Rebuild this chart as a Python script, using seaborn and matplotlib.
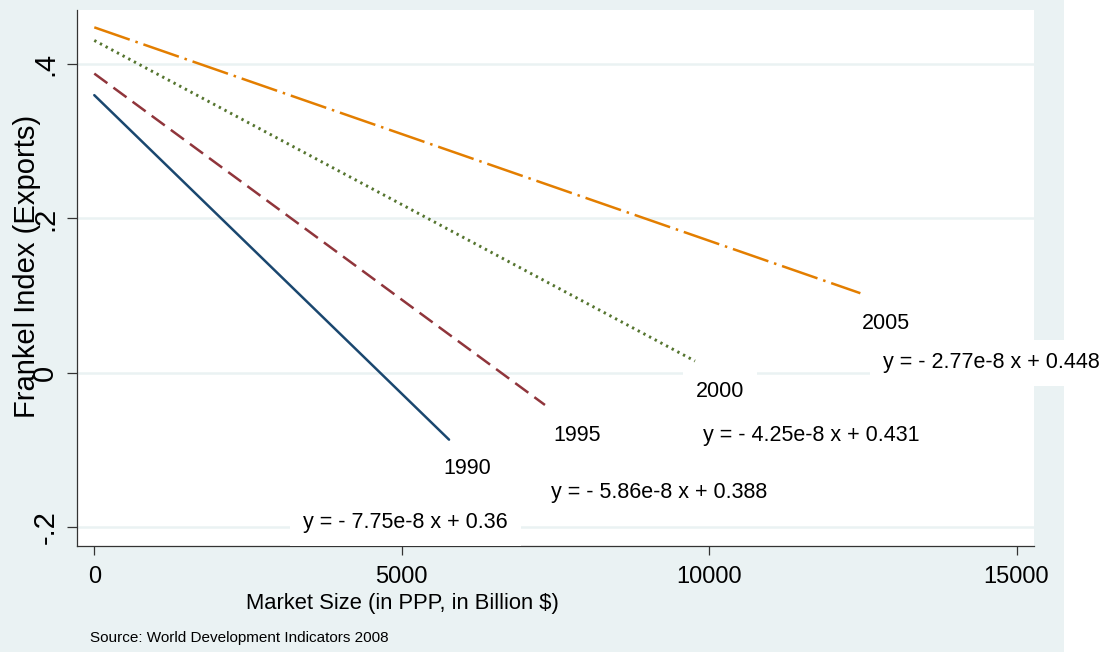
import numpy as np
import pandas as pd
import matplotlib
matplotlib.use("Agg")
import matplotlib.pyplot as plt
from matplotlib.patches import Rectangle
import seaborn as sns

# --------------------------------------------------------------
# Data: fitted lines per year (start / end points)
# --------------------------------------------------------------
years = ["1990", "1995", "2000", "2005"]
x_start = [0, 0, 0, 0]
x_end = [5770, 7330, 9770, 12460]
y_start = [0.360, 0.388, 0.431, 0.448]
y_end = [-0.087, -0.042, 0.015, 0.103]
equations = [
    "y = - 7.75e-8 x + 0.36",
    "y = - 5.86e-8 x + 0.388",
    "y = - 4.25e-8 x + 0.431",
    "y = - 2.77e-8 x + 0.448",
]
x_ticks = [0, 5000, 10000, 15000]
y_ticks = [-0.2, 0, 0.2, 0.4]
y_tick_labels = ["-.2", "0", ".2", ".4"]

# label placement (layout only)
year_label_pos = [(6062, -0.124), (7851, -0.081), (10177, -0.025), (12874, 0.064)]
eq_label_pos = [(3395, -0.194), (7428, -0.155), (9900, -0.081), (12828, 0.0125)]

df = pd.DataFrame({
    "year": np.repeat(years, 2),
    "x": np.ravel(np.column_stack([x_start, x_end])),
    "y": np.ravel(np.column_stack([y_start, y_end])),
})

palette = {"1990": "#1A476F", "1995": "#90353B", "2000": "#55752F", "2005": "#E37E00"}
dashes = {"1990": "", "1995": (6.5, 3), "2000": (0.8, 1.4), "2005": (15, 2.4, 1, 2.4)}

bg = "#EAF2F3"

sns.set_theme(style="white")
plt.rcParams["font.family"] = ["Liberation Sans", "DejaVu Sans"]
plt.rcParams["text.color"] = "black"
plt.rcParams["axes.labelcolor"] = "black"
plt.rcParams["xtick.color"] = "black"
plt.rcParams["ytick.color"] = "black"

fig = plt.figure(figsize=(11.07, 6.52), dpi=100, facecolor="white")
fig.add_artist(Rectangle((0, 0), 1064 / 1107, 1, transform=fig.transFigure,
                         facecolor=bg, edgecolor="none", zorder=-5))

ax = fig.add_axes([76.7 / 1107, 1 - 546 / 652, (1034 - 76.7) / 1107, (546 - 10) / 652])
ax.set_facecolor("white")

sns.lineplot(data=df, x="x", y="y", hue="year", style="year", palette=palette,
             dashes=dashes, linewidth=1.8, legend=False, sort=False,
             estimator=None, ax=ax, zorder=3)

# the dotted series looks a touch heavier in the original
for line in ax.lines:
    if line.get_color() == palette["2000"]:
        line.set_linewidth(2.1)

ax.set_xlim(-286, 15284)
ax.set_ylim(-0.225, 0.4705)
ax.set_xticks(x_ticks)
ax.set_xticklabels([str(t) for t in x_ticks], fontsize=17)
ax.set_yticks(y_ticks)
ax.set_yticklabels(y_tick_labels, fontsize=21, rotation=90, va="center")

ax.set_axisbelow(True)
ax.yaxis.grid(True, color=bg, linewidth=1.8)
ax.xaxis.grid(False)
for side in ["top", "right"]:
    ax.spines[side].set_visible(False)
for side in ["left", "bottom"]:
    ax.spines[side].set_color("#333333")
    ax.spines[side].set_linewidth(0.9)
ax.tick_params(axis="x", length=6.7, width=0.9, color="#333333", pad=7.5, bottom=True)
ax.tick_params(axis="y", length=7.5, width=0.9, color="#333333", pad=5, left=True)

ax.set_xlabel("Market Size (in PPP, in Billion $)", fontsize=15.8)
ax.xaxis.set_label_coords(0.3403, -0.088)
ax.set_ylabel("Frankel Index (Exports)", fontsize=21, va="center")
ax.yaxis.set_label_coords(-0.052, 0.522)

box = dict(boxstyle="square,pad=0.6", facecolor="white", edgecolor="none")
for (lx, ly), yr in zip(year_label_pos, years):
    ax.text(lx, ly, yr, ha="center", va="center", fontsize=15.5, bbox=box, zorder=4)
for (ex, ey), eq in zip(eq_label_pos, equations):
    ax.text(ex, ey, eq, ha="left", va="center", fontsize=15.5, bbox=box, zorder=4)

fig.text(90 / 1107, 1 - 638 / 652, "Source: World Development Indicators 2008",
         ha="left", va="center", fontsize=11)

fig.savefig("out.png", dpi=100, facecolor=fig.get_facecolor())
